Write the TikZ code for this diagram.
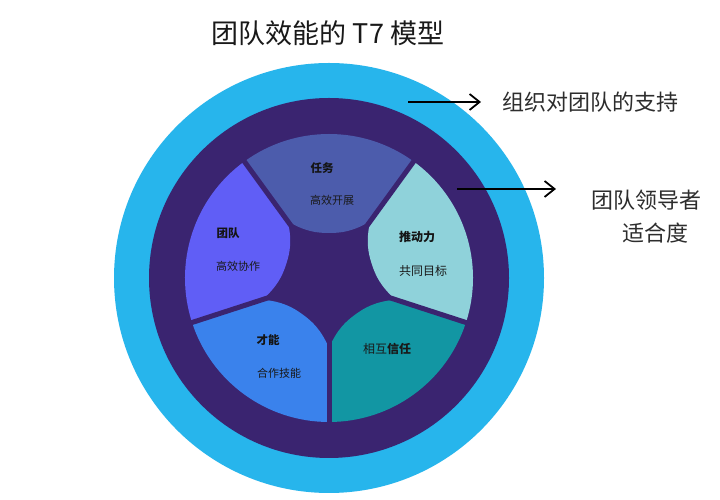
\documentclass[tikz,border=0pt]{standalone}
\usepackage{fontspec}
\setmainfont{Noto Sans CJK SC}
\usetikzlibrary{arrows.meta}
\definecolor{ringlight}{RGB}{39,181,236}
\definecolor{ringdark}{RGB}{58,36,112}
\definecolor{ptop}{RGB}{76,92,172}
\definecolor{pur}{RGB}{143,210,218}
\definecolor{plr}{RGB}{18,150,163}
\definecolor{pll}{RGB}{58,130,236}
\definecolor{pul}{RGB}{96,94,246}
\definecolor{txtgray}{RGB}{45,45,45}
\tikzset{
  petalhead/.style={font=\fontsize{11.5}{13}\selectfont\bfseries, text=black!92, inner sep=0pt},
  petaltext/.style={font=\fontsize{11}{13}\selectfont, text=black!90, inner sep=0pt},
  sidelabel/.style={font=\fontsize{22}{33}\selectfont, text=txtgray, inner sep=0pt},
  arr/.style={-{Straight Barb[length=10pt,width=16pt,line width=1.8pt]}, line width=1.8pt, black},
  gapline/.style={ringdark, line width=5pt},
}
\newcommand{\petalpath}[1]{%
  (#1-36:144) arc[start angle=#1-36, end angle=#1+36, radius=144]
  -- (#1+36:70) .. controls (#1+27:52) and (#1+15:46.6) .. (#1:45)
  .. controls (#1-15:46.6) and (#1-27:52) .. (#1-36:70) -- cycle}
\begin{document}
\begin{tikzpicture}[x=1pt,y=1pt]
\useasboundingbox (0,0) rectangle (720,500);
\fill[white] (0,0) rectangle (720,500);
% title
\node[font=\fontsize{27}{30}\selectfont, text=black!90, inner sep=0pt] (title) at (328,467) {团队效能的 T7 模型};
% rings
\fill[ringlight] (329,222) circle[radius=215];
\fill[ringdark] (329,222) circle[radius=180];
\begin{scope}[shift={(329,222)}]
  \fill[ptop] \petalpath{90};
  \fill[pur]  \petalpath{18};
  \fill[plr]  \petalpath{-54};
  \fill[pll]  \petalpath{-126};
  \fill[pul]  \petalpath{162};
  \foreach \g in {54,126,198,270,342} {
    \draw[gapline] (0,0) -- (\g:147);
  }
\end{scope}
% petal texts
\node[petalhead] (h1) at (322,332) {任务};
\node[petaltext] (t1) at (332,300) {高效开展};
\node[petalhead] (h2) at (228,267) {团队};
\node[petaltext] (t2) at (238,234) {高效协作};
\node[petalhead, font=\fontsize{12}{14}\selectfont\bfseries] (h3) at (417,263) {推动力};
\node[petaltext, font=\fontsize{12}{14}\selectfont] (t3) at (423,229) {共同目标};
\node[petalhead] (h4) at (268,160) {才能};
\node[petaltext] (t4) at (279,127) {合作技能};
\node[petaltext, font=\fontsize{12}{14}\selectfont] (t5) at (387,151) {相互\textbf{信任}};
% side labels
\node[sidelabel, anchor=west] (lab1) at (502,398) {组织对团队的支持};
\node[sidelabel, align=center] (lab2) at (646,283) {团队领导者\\\hspace*{18pt}适合度};
\coordinate (s1) at (408,398);
\coordinate (e1) at (481,398);
\coordinate (s2) at (457,311);
\coordinate (e2) at (556,311);
\draw[arr] (s1) -- (e1);
\draw[arr] (s2) -- (e2);
\end{tikzpicture}
\end{document}
